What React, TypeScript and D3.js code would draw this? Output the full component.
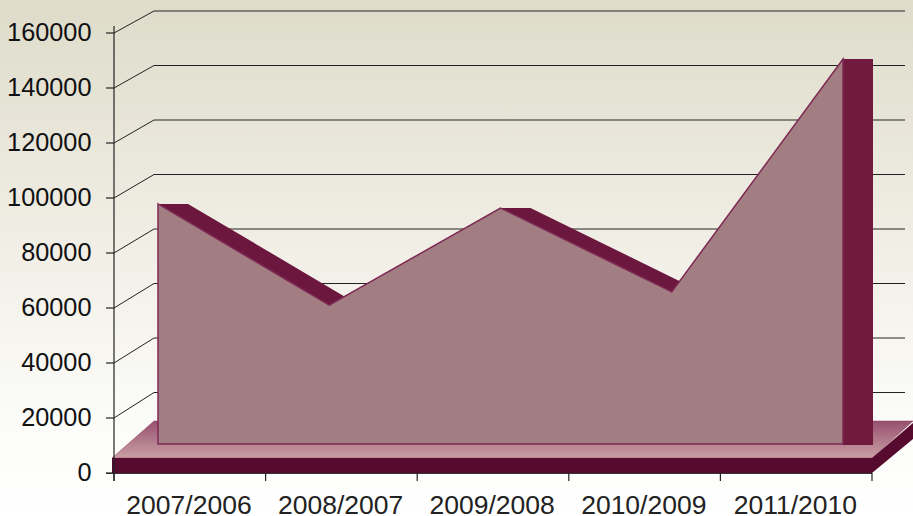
import React from "react";
import * as d3 from "d3";

const categories = ["2007/2006", "2008/2007", "2009/2008", "2010/2009", "2011/2010"];
const values = [87300, 50500, 85800, 55300, 140000];
const yTicks = [0, 20000, 40000, 60000, 80000, 100000, 120000, 140000, 160000];

const W = 913, H = 516;
const yAxis = d3.scaleLinear().domain([0, 160000]).range([473, 33]);
const yBack = d3.scaleLinear().domain([20000, 160000]).range([392.5, 11]);
const yArea = d3.scaleLinear().domain([0, 160000]).range([444, 4]);
const xArea = d3.scalePoint<string>().domain(categories).range([158, 843]);
const xEdges = d3.scaleLinear().domain([0, categories.length]).range([114, 872]);
const DEPTH = 30;
const FONT = "'Liberation Sans', Arial, sans-serif";

const pts: [number, number][] = categories.map((c, i) => [xArea(c)!, yArea(values[i])]);
const line = d3.line();
const areaPath = d3.area<[number, number]>().x(d => d[0]).y0(yArea(0)).y1(d => d[1])(pts)!;

export default function App() {
  return (
    <svg width={W} height={H} viewBox={`0 0 ${W} ${H}`} style={{ position: "absolute", left: 0, top: 0, display: "block" }}>
      <defs>
        <linearGradient id="bg" x1="0" y1="0" x2="0" y2="1">
          <stop offset="0" stopColor="#e0dbcb" />
          <stop offset="0.06" stopColor="#e0decd" />
          <stop offset="0.45" stopColor="#f0ede4" />
          <stop offset="0.8" stopColor="#fbfbf8" />
          <stop offset="1" stopColor="#ffffff" />
        </linearGradient>
        <linearGradient id="floor" x1="0" y1="0" x2="0" y2="1">
          <stop offset="0" stopColor="#985070" />
          <stop offset="1" stopColor="#c9a0a4" />
        </linearGradient>
      </defs>
      <rect width={W} height={H} fill="url(#bg)" />

      {yTicks.filter(t => t > 0).map(t => (
        <path key={t} d={line([[114, yAxis(t)], [154, yBack(t)], [905, yBack(t)]])!} fill="none" stroke="#222" strokeWidth={1} />
      ))}

      <polygon points="112,458 872,458 913,421 913,421 154,421" fill="url(#floor)" stroke="#8a3a5c" strokeWidth={0.5} />
      <rect x={112} y={458} width={760} height={15} fill="#560a2e" />
      <polygon points="872,458 872,473 913,439 913,423" fill="#560a2e" />

      {pts.slice(0, -1).map((p, i) => {
        const q = pts[i + 1];
        return <polygon key={i} points={`${p[0]},${p[1]} ${p[0] + DEPTH},${p[1]} ${q[0] + DEPTH},${q[1]} ${q[0]},${q[1]}`} fill="#6c173e" />;
      })}
      <rect x={pts[4][0]} y={pts[4][1]} width={DEPTH} height={yArea(0) - pts[4][1] + 1} fill="#711a40" />

      <path d={areaPath} fill="#a27d81" stroke="#7e2a54" strokeWidth={1.5} />

      <line x1={114} x2={114} y1={26} y2={481} stroke="#222" strokeWidth={1.2} />
      <line x1={106} x2={872} y1={473.5} y2={473.5} stroke="#333" strokeWidth={1.2} />
      {yTicks.map(t => (
        <g key={t}>
          <line x1={106} x2={114} y1={yAxis(t)} y2={yAxis(t)} stroke="#222" strokeWidth={1.2} />
          <text x={91.5} y={yAxis(t) + 8} textAnchor="end" fontFamily={FONT} fontSize={25.3} fill="#111">{t}</text>
        </g>
      ))}
      {d3.range(categories.length + 1).map(i => (
        <line key={i} x1={xEdges(i)} x2={xEdges(i)} y1={473} y2={481} stroke="#222" strokeWidth={1.2} />
      ))}
      {categories.map((c, i) => (
        <text key={c} x={xEdges(i + 0.5) - 0.8} y={513.5} textAnchor="middle" fontFamily={FONT} fontSize={26.5} fill="#222">{c}</text>
      ))}
    </svg>
  );
}
